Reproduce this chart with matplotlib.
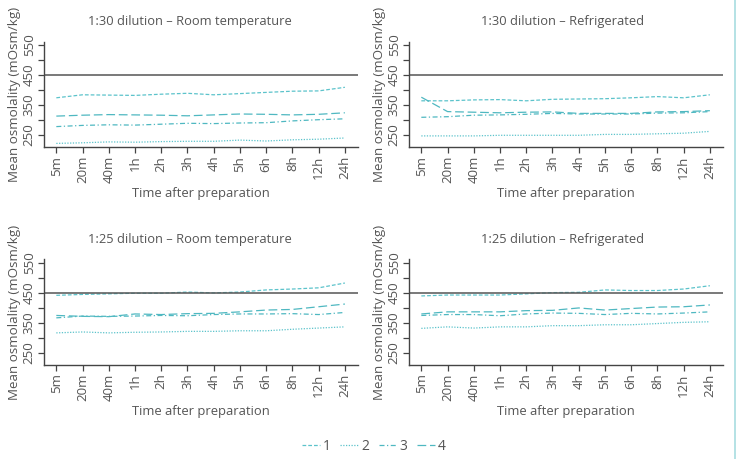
import numpy as np
import matplotlib
matplotlib.use('Agg')
import matplotlib.pyplot as plt
from matplotlib.lines import Line2D

plt.rcParams['font.family'] = ['Open Sans', 'DejaVu Sans']

times = ['5m', '20m', '40m', '1h', '2h', '3h', '4h', '5h', '6h', '8h', '12h', '24h']

# 1:30 dilution - room temperature
r30_s1 = [374, 384, 383, 382, 386, 389, 384, 388, 392, 396, 397, 409]
r30_s2 = [222, 224, 227, 226, 228, 229, 229, 233, 230, 234, 236, 240]
r30_s3 = [278, 282, 284, 283, 286, 289, 288, 290, 291, 297, 301, 304]
r30_s4 = [313, 316, 318, 317, 316, 314, 317, 320, 319, 317, 319, 324]

# 1:30 dilution - refrigerated
f30_s1 = [364, 364, 367, 368, 364, 369, 370, 371, 374, 378, 374, 384]
f30_s2 = [247, 247, 247, 249, 249, 249, 249, 252, 252, 254, 256, 262]
f30_s3 = [309, 311, 316, 317, 319, 322, 320, 320, 320, 323, 324, 328]
f30_s4 = [376, 328, 326, 324, 326, 327, 322, 322, 322, 327, 328, 331]

# 1:25 dilution - room temperature
r25_s1 = [441, 444, 446, 448, 448, 452, 449, 452, 459, 462, 466, 482]
r25_s2 = [316, 319, 316, 318, 319, 321, 321, 323, 323, 328, 332, 336]
r25_s3 = [366, 372, 371, 372, 374, 373, 377, 379, 379, 380, 377, 384]
r25_s4 = [374, 371, 370, 379, 377, 380, 381, 386, 392, 394, 403, 412]

# 1:25 dilution - refrigerated
f25_s1 = [439, 442, 442, 442, 446, 450, 451, 459, 457, 457, 462, 473]
f25_s2 = [331, 336, 332, 336, 336, 340, 340, 343, 343, 347, 351, 353]
f25_s3 = [374, 377, 377, 373, 379, 382, 381, 377, 381, 379, 382, 386]
f25_s4 = [379, 386, 386, 386, 390, 391, 399, 392, 397, 402, 403, 409]

titles = ['1:30 dilution \u2013 Room temperature', '1:30 dilution \u2013 Refrigerated',
          '1:25 dilution \u2013 Room temperature', '1:25 dilution \u2013 Refrigerated']
panels = [[r30_s1, r30_s2, r30_s3, r30_s4],
          [f30_s1, f30_s2, f30_s3, f30_s4],
          [r25_s1, r25_s2, r25_s3, r25_s4],
          [f25_s1, f25_s2, f25_s3, f25_s4]]
series_names = ['1', '2', '3', '4']
reference = 450

colors = ['#5cc3cb', '#5cc3cb', '#4fb8c1', '#4fb8c1']
styles = [(0, (3, 1.6)), (0, (1, 1.2)), (0, (4, 2, 1, 2)), (0, (7, 3))]

W, H = 737, 459
fig = plt.figure(figsize=(W / 100, H / 100), dpi=100)

# pixel boxes: left, bottom spine y, top y
boxes = [(44, 147.3, 41.7), (409, 147.3, 41.7), (44, 365, 259.3), (409, 365, 259.3)]
title_pos = [(190, 21.7), (563, 21.7), (190, 239), (563, 239)]
axw = 314

x = np.arange(len(times))
gray = '#444444'
txt = '#555555'
for i, (l, b, t) in enumerate(boxes):
    ax = fig.add_axes([l / W, 1 - b / H, axw / W, (b - t) / H])
    for k, vals in enumerate(panels[i]):
        ax.plot(x, vals, color=colors[k], linestyle=styles[k], lw=0.9,
                label=series_names[k])
    ax.axhline(reference, color='#555555', lw=1.1)
    ax.set_xlim(-0.47, 11.5)
    ax.set_ylim(209, 561)
    ax.set_yticks([250, 300, 350, 400, 450, 500, 550])
    ax.set_yticklabels(['250', '', '350', '', '450', '', '550'])
    ax.set_xticks(x)
    ax.set_xticklabels(times, rotation=90)
    ax.tick_params(colors=gray, labelcolor=txt, labelsize=9.5, length=4, width=0.9, pad=2)
    for lab in ax.get_yticklabels():
        lab.set_rotation(90)
        lab.set_va('center')
    for s in ['top', 'right']:
        ax.spines[s].set_visible(False)
    for s in ['left', 'bottom']:
        ax.spines[s].set_color(gray)
        ax.spines[s].set_linewidth(1.0)
    ax.set_ylabel('Mean osmolality (mOsm/kg)', fontsize=9.6, color=txt, labelpad=1)
    ax.set_xlabel('Time after preparation', fontsize=9.4, color=txt, labelpad=3)
    tx, ty = title_pos[i]
    fig.text(tx / W, 1 - ty / H, titles[i], ha='center', va='center', fontsize=9.3, color=txt)
    if i == 0:
        handles, labels = ax.get_legend_handles_labels()

fig.legend(handles, labels, loc='center', bbox_to_anchor=(374 / W, 1 - 446 / H), ncol=4,
           frameon=False, fontsize=10, handlelength=1.3, handletextpad=0.2, columnspacing=0.7,
           labelcolor=txt)

fig.add_artist(Line2D([735 / W, 735 / W], [0, 1], color='#a8dde0', lw=1.2))

fig.savefig('out.png', dpi=100)
